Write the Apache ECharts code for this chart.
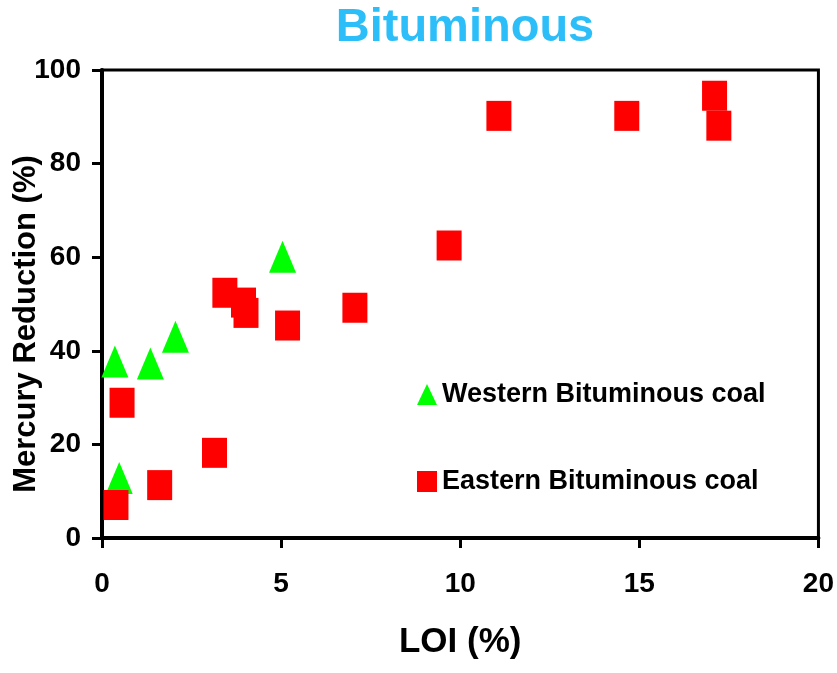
<!DOCTYPE html>
<html>
<head>
<meta charset="utf-8">
<script src="https://cdn.jsdelivr.net/npm/echarts@6/dist/echarts.min.js"></script>
<style>html,body{margin:0;padding:0;background:#fff;}#c{width:837px;height:673px;}</style>
</head>
<body>
<div id="c"></div>
<script>
var westernLOI = [0.36, 1.35, 2.05, 5.04, 0.48];
var westernHg  = [37.7, 37.3, 43.0, 60.1, 12.8];
var easternLOI = [0.56, 0.39, 1.61, 3.14, 3.43, 3.95, 4.02, 5.18, 7.06, 9.69, 11.08, 14.65, 17.1, 17.22];
var easternHg  = [28.9, 7.05, 11.3, 18.2, 52.4, 50.3, 48.1, 45.4, 49.2, 62.5, 90.2, 90.2, 94.5, 88.1];
var xTicks = [0, 5, 10, 15, 20];
var yTicks = [0, 20, 40, 60, 80, 100];

function pairs(xs, ys) { return xs.map(function (x, i) { return [x, ys[i]]; }); }

var FONT = "'Liberation Sans', Arial, Helvetica, sans-serif";
var chart = echarts.init(document.getElementById('c'), null, {renderer: 'canvas'});
chart.setOption({
  backgroundColor: '#fff',
  animation: false,
  title: {
    text: 'Bituminous',
    left: 460, top: 0, textAlign: 'center',
    textStyle: {color: '#2BBEF8', fontSize: 47, fontWeight: 'bold', fontFamily: FONT}
  },
  grid: {left: 102, right: 15, top: 70, bottom: 135, show: true, borderColor: '#000', borderWidth: 3, backgroundColor: 'transparent'},
  legend: {
    orient: 'vertical', left: 412, top: 376, itemGap: 60,
    itemWidth: 20, itemHeight: 21,
    textStyle: {fontSize: 27, fontWeight: 'bold', fontFamily: FONT, color: '#000'},
    data: [
      {name: 'Western Bituminous coal', icon: 'triangle'},
      {name: 'Eastern Bituminous coal', icon: 'rect'}
    ]
  },
  xAxis: {
    type: 'value', min: 0, max: 20, interval: 5,
    axisLine: {show: true, onZero: false, lineStyle: {color: '#000', width: 4}},
    axisTick: {show: true, length: 10, lineStyle: {color: '#000', width: 3}},
    axisLabel: {margin: 32, color: '#000', fontSize: 28, fontWeight: 'bold', fontFamily: FONT,
      formatter: function (v) { return xTicks.indexOf(v) >= 0 ? String(v) : ''; }},
    splitLine: {show: false},
    name: 'LOI (%)', nameLocation: 'middle', nameGap: 87,
    nameTextStyle: {fontSize: 35, fontWeight: 'bold', fontFamily: FONT, color: '#000'}
  },
  yAxis: {
    type: 'value', min: 0, max: 100, interval: 20,
    axisLine: {show: true, onZero: false, lineStyle: {color: '#000', width: 4}},
    axisTick: {show: true, length: 10, lineStyle: {color: '#000', width: 3}},
    axisLabel: {margin: 21, color: '#000', fontSize: 28, fontWeight: 'bold', fontFamily: FONT,
      formatter: function (v) { return yTicks.indexOf(v) >= 0 ? String(v) : ''; }},
    splitLine: {show: false}
  },
  graphic: [{
    type: 'text', rotation: Math.PI / 2,
    x: 26, y: 324,
    style: {text: 'Mercury Reduction (%)', fill: '#000', fontSize: 31, fontWeight: 'bold',
      fontFamily: FONT, textAlign: 'center', textVerticalAlign: 'middle'}
  }],
  series: [
    {name: 'Eastern Bituminous coal', type: 'scatter', symbol: 'rect', symbolSize: [25, 30],
      itemStyle: {color: '#FF0000', opacity: 1}, data: pairs(easternLOI, easternHg), z: 3},
    {name: 'Western Bituminous coal', type: 'scatter', symbol: 'triangle', symbolSize: [27, 32],
      itemStyle: {color: '#00FF00', opacity: 1}, data: pairs(westernLOI, westernHg), z: 2}
  ]
});
</script>
</body>
</html>
